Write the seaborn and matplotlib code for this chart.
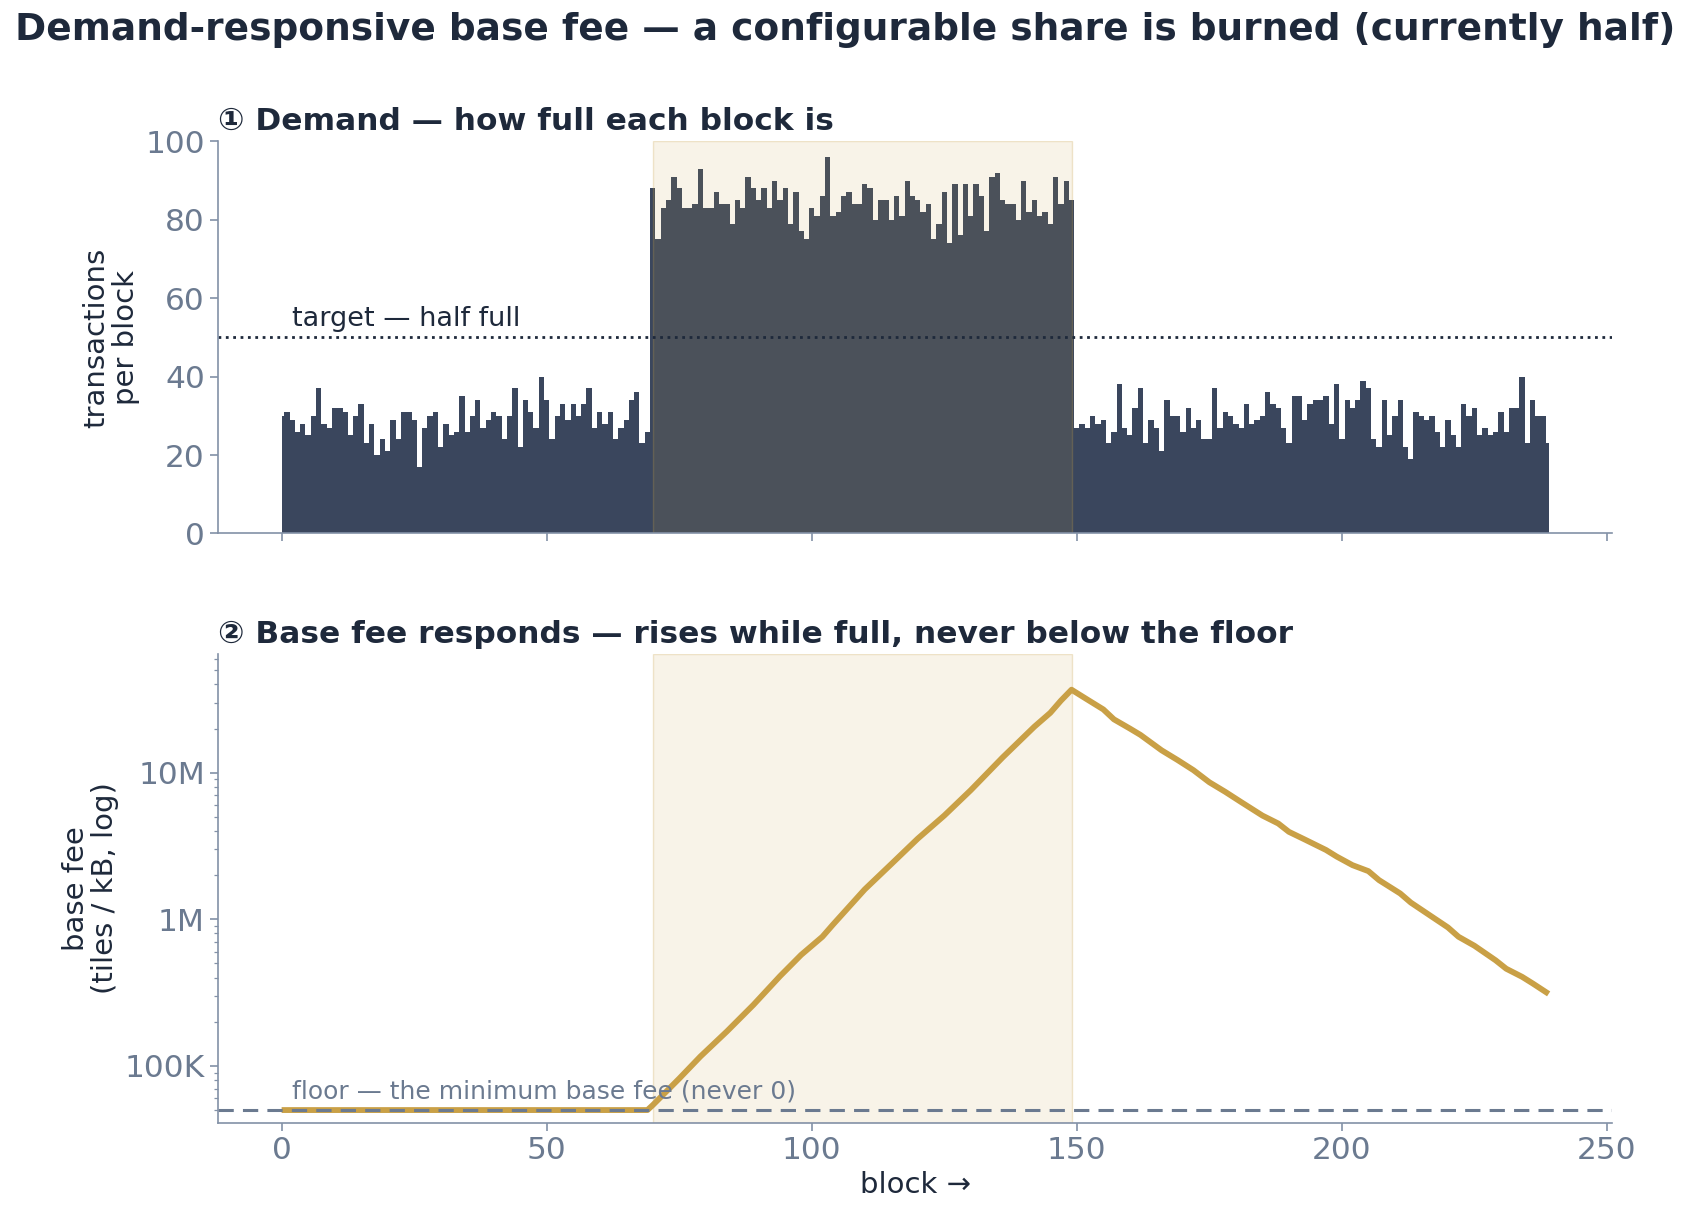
import numpy as np
import matplotlib
matplotlib.use('Agg')
import matplotlib.pyplot as plt
import matplotlib.ticker as mticker
import seaborn as sns

# ── data ──
# transactions in each block, blocks 0..239
tx_per_block = [
    30, 31, 29, 26, 28, 25, 30, 37, 28, 27,
    32, 32, 31, 25, 30, 33, 23, 28, 20, 24,
    21, 29, 24, 31, 31, 29, 17, 27, 30, 31,
    22, 28, 25, 26, 35, 26, 30, 34, 27, 29,
    31, 30, 24, 30, 37, 22, 34, 31, 27, 40,
    34, 24, 30, 33, 29, 33, 30, 33, 37, 27,
    31, 28, 31, 24, 27, 29, 34, 36, 23, 26,
    88, 75, 83, 85, 91, 88, 83, 83, 84, 93,
    83, 83, 87, 84, 84, 79, 85, 83, 91, 88,
    85, 88, 83, 90, 85, 88, 79, 87, 77, 75,
    83, 81, 86, 96, 81, 82, 86, 87, 84, 84,
    89, 88, 80, 85, 85, 80, 86, 81, 90, 86,
    85, 82, 84, 75, 79, 87, 74, 89, 76, 89,
    81, 89, 86, 77, 91, 92, 85, 84, 84, 80,
    90, 82, 85, 81, 82, 79, 91, 84, 90, 85,
    27, 28, 27, 30, 28, 29, 23, 26, 38, 27,
    25, 32, 37, 23, 29, 27, 21, 34, 30, 30,
    26, 32, 27, 29, 24, 24, 37, 27, 31, 30,
    28, 27, 33, 28, 29, 30, 36, 33, 32, 27,
    23, 35, 35, 29, 33, 34, 34, 35, 28, 38,
    24, 34, 32, 34, 39, 37, 24, 22, 34, 25,
    30, 34, 22, 19, 31, 30, 29, 30, 26, 22,
    29, 25, 22, 33, 30, 32, 25, 27, 25, 26,
    31, 26, 32, 32, 40, 23, 34, 30, 30, 23,
]
blocks = np.arange(len(tx_per_block))

# base fee (tiles / kB) read at selected blocks
fee_blocks = [0, 69, 70, 75, 79, 84, 89, 94, 98, 102, 104, 110, 115, 120, 125,
              130, 136, 142, 145, 147, 149, 152, 155, 157, 160, 162, 166, 169,
              172, 175, 178, 181, 185, 188, 190, 193, 197, 199, 202, 205, 207,
              211, 213, 217, 220, 222, 225, 229, 231, 234, 236, 239]
fee_values = [50e3, 50e3, 54e3, 82e3, 116e3, 172e3, 261e3, 409e3, 572e3, 760e3,
              920e3, 1.6e6, 2.38e6, 3.55e6, 5.1e6, 7.6e6, 12.7e6, 20.6e6, 25.6e6,
              31e6, 36.8e6, 31.5e6, 27e6, 23.1e6, 20e6, 18.1e6, 14.2e6, 12.2e6,
              10.4e6, 8.6e6, 7.4e6, 6.3e6, 5.1e6, 4.5e6, 3.95e6, 3.5e6, 2.97e6,
              2.68e6, 2.34e6, 2.13e6, 1.85e6, 1.5e6, 1.3e6, 1.04e6, 880e3, 760e3,
              660e3, 525e3, 460e3, 405e3, 365e3, 310e3]

target = 50
floor_fee = 50e3
busy_start, busy_end = 70, 149

NAVY = '#3a465d'
GOLD = '#c9a046'
INK = '#1e293b'
SLATE = '#6b7a90'
SPINE = '#8391a7'

sns.set_theme(style='ticks')
plt.rcParams.update({
    'font.family': ['DejaVu Sans'],
    'axes.edgecolor': SPINE, 'xtick.color': SPINE, 'ytick.color': SPINE,
    'xtick.labelcolor': SLATE, 'ytick.labelcolor': SLATE,
    'axes.labelcolor': INK,
})

fig = plt.figure(figsize=(16.9, 12.18), dpi=100)
ax1 = fig.add_axes([0.129, 0.562, 0.825, 0.322])
ax2 = fig.add_axes([0.129, 0.078, 0.825, 0.385], sharex=ax1)

# ① demand
ax1.fill_between(blocks, tx_per_block, step='mid', color=NAVY, lw=0)
ax1.axvspan(busy_start, busy_end, facecolor=(0.79, 0.63, 0.27, 0.12),
            edgecolor=(0.79, 0.63, 0.27, 0.25), lw=1)
ax1.axhline(target, color=INK, ls=':', lw=2)
ax1.text(2, target + 1.5, 'target — half full', fontsize=19.5, color=INK,
         va='bottom', ha='left')
ax1.set_ylim(0, 100)
ax1.set_yticks(range(0, 101, 20))
ax1.set_ylabel('transactions\nper block', fontsize=21, linespacing=1.05)
ax1.set_title('① Demand — how full each block is', loc='left', fontsize=22.5,
              fontweight='bold', color=INK, pad=8)
ax1.tick_params(labelbottom=False, labelsize=22.5, length=6, width=1.2)

# ② base fee
ax2.axvspan(busy_start, busy_end, facecolor=(0.79, 0.63, 0.27, 0.12),
            edgecolor=(0.79, 0.63, 0.27, 0.25), lw=1)
sns.lineplot(x=fee_blocks, y=fee_values, ax=ax2, color=GOLD, lw=4.2,
             solid_capstyle='butt')
ax2.axhline(floor_fee, color=SLATE, ls='--', lw=2.2, dashes=(5, 3))
ax2.text(2, floor_fee * 1.1, 'floor — the minimum base fee (never 0)',
         fontsize=18, color=SLATE, va='bottom', ha='left')
ax2.set_yscale('log')
ax2.set_ylim(40.8e3, 64.4e6)


def fee_fmt(v, pos):
    if v >= 1e6:
        return f'{v / 1e6:g}M'
    return f'{v / 1e3:g}K'


ax2.yaxis.set_major_locator(mticker.LogLocator(base=10))
ax2.yaxis.set_major_formatter(mticker.FuncFormatter(fee_fmt))
ax2.yaxis.set_minor_formatter(mticker.NullFormatter())
ax2.set_ylabel('base fee\n(tiles / kB, log)', fontsize=21, linespacing=1.05)
ax2.set_xlabel('block →', fontsize=21)
ax2.set_title('② Base fee responds — rises while full, never below the floor',
              loc='left', fontsize=22.5, fontweight='bold', color=INK, pad=8)
ax2.tick_params(labelsize=22.5, length=6, width=1.2)
ax2.tick_params(which='minor', length=3, width=0.9)
ax2.set_xticks(range(0, 251, 50))
ax2.set_xlim(-12, 251)

for ax in (ax1, ax2):
    sns.despine(ax=ax)
    for s in ax.spines.values():
        s.set_linewidth(1.2)

fig.suptitle('Demand-responsive base fee — a configurable share is burned (currently half)',
             fontsize=27, fontweight='bold', color=INK, y=0.975, va='center')

fig.savefig('out.png', dpi=100)
